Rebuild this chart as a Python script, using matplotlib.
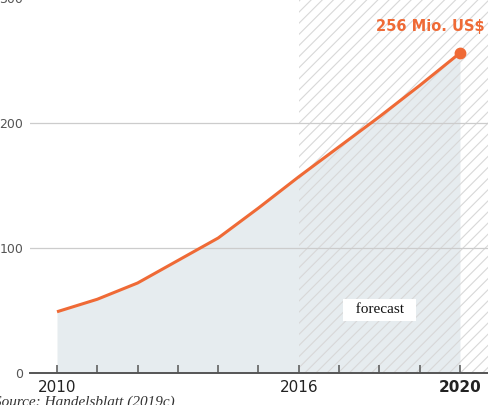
import matplotlib
matplotlib.use('Agg')
import matplotlib.pyplot as plt

years = [2010, 2011, 2012, 2013, 2014, 2015, 2016, 2017, 2018, 2019, 2020]
revenue = [49, 59, 72, 90, 108, 132, 157, 181, 205, 230, 256]
year_labels = ['2010', '2016', '2020']
y_ticks = [0, 100, 200, 300]
forecast_start = 2016
end_label = '256 Mio. US$'

orange = '#ef6a36'
fill_col = '#e6ecef'

plt.rcParams['font.family'] = ['DejaVu Sans']
plt.rcParams['hatch.linewidth'] = 0.8

fig = plt.figure(figsize=(4.89, 4.05), dpi=100)
ax = fig.add_axes([30/489, 32/405, 459/489, 375/405])

ax.set_xlim(2009.33, 2020.72)
ax.set_ylim(0, 300)

ax.fill_between(years, revenue, 0, color=fill_col, lw=0, zorder=1)
ax.axvspan(forecast_start, 2020.72, facecolor='none', edgecolor='#d8d8d8',
           hatch='///', lw=0, zorder=1.2)
ax.plot(years, revenue, color=orange, lw=2.2, zorder=3, solid_capstyle='butt')
ax.plot(years[-1], revenue[-1], 'o', color=orange, ms=7.5, zorder=4)

ax.text(2020.62, 277, end_label, color=orange, fontsize=10.5, fontweight='bold',
        ha='right', va='center')
ax.text(2018.0, 50.5, '  forecast  ', family='Liberation Serif', fontsize=11,
        ha='center', va='center', color='#111',
        bbox=dict(boxstyle='square,pad=0.28', fc='white', ec='none'), zorder=5)

for s in ['top', 'right', 'left']:
    ax.spines[s].set_visible(False)
ax.spines['bottom'].set_color('#555555')
ax.spines['bottom'].set_linewidth(1.4)
ax.spines['bottom'].set_zorder(6)

ax.set_yticks(y_ticks)
ax.set_yticklabels([str(v) for v in y_ticks])
ax.tick_params(axis='y', length=0, pad=5, labelsize=9, labelcolor='#555555')
ax.yaxis.grid(True, color='#cccccc', lw=0.9)

ax.set_xticks(years)
ax.set_xticklabels([str(y) if str(y) in year_labels else '' for y in years])
ax.tick_params(axis='x', direction='in', length=6, width=1.1, color='#555555',
               pad=5, labelsize=11, labelcolor='#222222')
for t in ax.get_xticklabels():
    if t.get_text() == '2020':
        t.set_fontweight('bold')

fig.text(-6/489, 9/405, 'Source: Handelsblatt (2019c)', family='Liberation Serif',
         style='italic', fontsize=11, color='#333333', ha='left', va='top')

fig.savefig('out.png', dpi=100)
